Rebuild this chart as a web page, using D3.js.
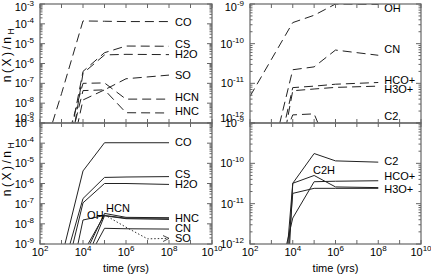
<!DOCTYPE html>
<html>
<head>
<meta charset="utf-8">
<script src="https://cdn.jsdelivr.net/npm/d3@7"></script>
<style>
  body { margin: 0; background: #fff; }
  text { font-family: "Liberation Sans", Arial, sans-serif; fill: #000; }
</style>
</head>
<body>
<svg id="chart" width="431" height="276"></svg>
<script>
// sample times (yrs)
const times = [1e2, 1e3, 1e4, 1e5, 1e6, 1e8];
const timesSO = [1e2, 1e3, 1e4, 1e5, 1e6, 1e7, 1e8];

// upper left panel (dashed)
const upLeftNames = ["CO", "CS", "H2O", "SO", "HCN", "HNC"];
const upLeftValues = [
  [1e-11, 3e-8, 1.4e-4, 1.35e-4, 1.3e-4, 1.3e-4],
  [1e-14, 1e-12, 4e-7, 3.5e-6, 7.6e-6, 7.4e-6],
  [1e-15, 6e-14, 3.2e-7, 2.7e-6, 2.9e-6, 2.8e-6],
  [1e-15, 1.8e-12, 4.3e-8, 4.7e-8, 1.7e-7, 2.6e-7],
  [1e-14, 1.3e-11, 1e-7, 1.05e-7, 1.6e-8, 1.6e-8],
  [1e-16, 1.6e-13, 1.45e-8, 4.7e-8, 3.3e-9, 3.2e-9]
];
const upLeftLabelAt = [1.3e-4, 9.5e-6, 3e-6, 2.6e-7, 2e-8, 4e-9];

// upper right panel (dashed)
const upRightNames = ["OH", "CN", "HCO+", "H3O+", "C2"];
const upRightValues = [
  [4.7e-12, 4e-11, 3.4e-10, 5.2e-10, 1e-9, 0.98e-9],
  [1e-14, 1.35e-13, 2.2e-11, 2.6e-11, 6.9e-11, 5.1e-11],
  [1e-16, 3.2e-14, 7.8e-12, 8.5e-12, 9.5e-12, 1.05e-11],
  [1e-17, 8.5e-15, 6.5e-12, 7.2e-12, 7.9e-12, 8.5e-12],
  [1e-16, 6.3e-14, 1.6e-12, 1.7e-12, 8.7e-14, 3e-14]
];
const upRightLabelAt = [7.9e-10, 7.2e-11, 1.2e-11, 7.4e-12, 1.5e-12];

// lower left panel (solid)
const lowLeftNames = ["CO", "CS", "H2O", "OH", "HCN", "HNC", "CN"];
const lowLeftValues = [
  [1e-11, 2e-10, 4.2e-6, 1.05e-4, 1.05e-4, 1.05e-4],
  [1e-13, 3.4e-11, 1.8e-7, 2e-6, 2.1e-6, 2.2e-6],
  [1e-14, 4.4e-12, 1.1e-7, 1e-6, 1e-6, 9e-7],
  [1e-15, 1.3e-13, 1.55e-8, 2.6e-8, 1.9e-8, 1.9e-8],
  [1e-15, 1e-13, 1.9e-10, 3.3e-8, 2.1e-8, 2e-8],
  [1e-15, 1e-13, 6.3e-11, 2.5e-8, 1.8e-8, 1.65e-8],
  [1e-15, 1e-13, 6.3e-11, 6e-9, 5.7e-9, 5.5e-9]
];
const lowLeftLabelAt = [1.2e-4, 2.9e-6, 9.5e-7, [1.55e4, 2.75e-8], [1.18e5, 6.2e-8], 1.9e-8, 6.5e-9];
// SO in the lower left: solid up to 1e5 yr, dotted after
const lowLeftSO = [1e-15, 1e-13, 3.6e-10, 2.8e-8, 6.8e-9, 1.8e-9, 1.9e-9];
const lowLeftSOLabelAt = 2.1e-9;

// lower right panel (solid)
const lowRightNames = ["C2", "C2H", "HCO+", "H3O+"];
const lowRightValues = [
  [1e-19, 1.2e-17, 3.2e-11, 1.75e-10, 1.15e-10, 1.07e-10],
  [1e-23, 1e-21, 3.2e-11, 5e-11, 2.6e-11, 2.5e-11],
  [1e-16, 2.3e-14, 4.4e-12, 3.5e-11, 3.6e-11, 3.7e-11],
  [1e-20, 3e-18, 1.8e-11, 2.4e-11, 2.4e-11, 2.4e-11]
];
const lowRightLabelAt = [1.15e-10, [8.8e4, 6.8e-11], 4.9e-11, 2.3e-11];

// tick labels (exponents of ten)
const xTickExps = [2, 4, 6, 8, 10];
const leftTickExps = [-3, -4, -5, -6, -7, -8, -9];
const rightTickExps = [-9, -10, -11, -12];

const svg = d3.select("#chart");
svg.append("rect").attr("width", 431).attr("height", 276).attr("fill", "#fff");

svg.append("defs").append("marker")
  .attr("id", "arrow")
  .attr("markerUnits", "userSpaceOnUse")
  .attr("markerWidth", 8).attr("markerHeight", 8)
  .attr("refX", 6).attr("refY", 3)
  .attr("orient", "auto")
  .append("path")
  .attr("d", "M0,0L6,3L0,6")
  .attr("fill", "none")
  .attr("stroke", "#333")
  .attr("stroke-width", 0.9);

const panels = [
  { id: "ul", x0: 40, x1: 212, y0: 4, y1: 123, yDom: [1e-9, 1e-3], exps: leftTickExps,
    names: upLeftNames, values: upLeftValues, labels: upLeftLabelAt, dash: "9,5", top: true, left: true },
  { id: "ur", x0: 250, x1: 421, y0: 4, y1: 123, yDom: [1e-12, 1e-9], exps: rightTickExps,
    names: upRightNames, values: upRightValues, labels: upRightLabelAt, dash: "9,5", top: true, left: false },
  { id: "ll", x0: 40, x1: 212, y0: 123, y1: 244, yDom: [1e-9, 1e-3], exps: leftTickExps,
    names: lowLeftNames, values: lowLeftValues, labels: lowLeftLabelAt, dash: null, top: false, left: true },
  { id: "lr", x0: 250, x1: 421, y0: 123, y1: 244, yDom: [1e-12, 1e-9], exps: rightTickExps,
    names: lowRightNames, values: lowRightValues, labels: lowRightLabelAt, dash: null, top: false, left: false }
];

function powLabel(sel, exp, size) {
  sel.append("tspan").text("10");
  sel.append("tspan").attr("dy", -5).attr("font-size", size).text((exp < 0 ? "-" : "") + Math.abs(exp));
}

panels.forEach(p => {
  const x = d3.scaleLog().domain([1e2, 1e10]).range([p.x0, p.x1]);
  const y = d3.scaleLog().domain(p.yDom).range([p.y1, p.y0]);
  const g = svg.append("g");

  g.append("clipPath").attr("id", "clip-" + p.id)
    .append("rect")
    .attr("x", p.x0).attr("y", p.y0)
    .attr("width", p.x1 - p.x0).attr("height", p.y1 - p.y0);

  const line = d3.line()
    .x((d, i) => x(times[i]))
    .y(d => y(d));

  const curves = g.append("g").attr("clip-path", "url(#clip-" + p.id + ")");
  p.values.forEach(vals => {
    curves.append("path")
      .attr("d", line(vals))
      .attr("fill", "none")
      .attr("stroke", "#222")
      .attr("stroke-width", 1)
      .attr("stroke-dasharray", p.dash);
  });

  if (p.id === "ll") {
    const soLine = d3.line().x(d => x(d[0])).y(d => y(d[1]));
    const pts = timesSO.map((t, i) => [t, lowLeftSO[i]]);
    curves.append("path")
      .attr("d", soLine(pts.slice(0, 4)))
      .attr("fill", "none").attr("stroke", "#222").attr("stroke-width", 1);
    g.append("path")
      .attr("d", soLine(pts.slice(3)))
      .attr("fill", "none").attr("stroke", "#333").attr("stroke-width", 1)
      .attr("stroke-dasharray", "1.5,2")
      .attr("marker-end", "url(#arrow)");
    g.append("text")
      .attr("x", x(1e8) + 6).attr("y", y(lowLeftSOLabelAt) + 4)
      .attr("font-size", 11).text("SO");
  }

  // curve labels
  p.names.forEach((n, i) => {
    const at = p.labels[i];
    const lx = Array.isArray(at) ? x(at[0]) : x(1e8) + 6;
    const ly = Array.isArray(at) ? y(at[1]) : y(at);
    g.append("text").attr("x", lx).attr("y", ly + 4).attr("font-size", 11).text(n);
  });

  // frame
  g.append("rect")
    .attr("x", p.x0).attr("y", p.y0)
    .attr("width", p.x1 - p.x0).attr("height", p.y1 - p.y0)
    .attr("fill", "none").attr("stroke", "#666").attr("stroke-width", 1.2);

  // y ticks: decades and minor
  const lo = Math.round(Math.log10(p.yDom[0])), hi = Math.round(Math.log10(p.yDom[1]));
  const ticks = g.append("g").attr("stroke", "#666").attr("stroke-width", 1);
  for (let k = lo; k <= hi; k++) {
    for (let m = 1; m <= 9; m++) {
      if (k === hi && m > 1) break;
      const v = m * Math.pow(10, k);
      const len = m === 1 ? 5 : 2.5;
      const yy = y(v);
      ticks.append("line").attr("x1", p.x0).attr("x2", p.x0 + len).attr("y1", yy).attr("y2", yy);
      ticks.append("line").attr("x1", p.x1).attr("x2", p.x1 - len).attr("y1", yy).attr("y2", yy);
    }
  }
  // x ticks at every decade
  for (let k = 2; k <= 10; k++) {
    const xx = x(Math.pow(10, k));
    ticks.append("line").attr("x1", xx).attr("x2", xx).attr("y1", p.y1).attr("y2", p.y1 - 4);
    ticks.append("line").attr("x1", xx).attr("x2", xx).attr("y1", p.y0).attr("y2", p.y0 + 4);
  }

  // y tick labels
  p.exps.forEach((e, i) => {
    let yy = y(Math.pow(10, e)) + 4;
    if (p.top && i === p.exps.length - 1) yy -= 5;
    if (p.top && i === 0) yy += 3;
    const t = g.append("text")
      .attr("x", p.x0 - 6).attr("y", yy)
      .attr("text-anchor", "end").attr("font-size", 11);
    powLabel(t, e, 8);
  });

  if (!p.top) {
    xTickExps.forEach(e => {
      const t = g.append("text")
        .attr("x", x(Math.pow(10, e))).attr("y", 256)
        .attr("text-anchor", "middle").attr("font-size", 11);
      powLabel(t, e, 8);
    });
    g.append("text")
      .attr("x", (p.x0 + p.x1) / 2).attr("y", 272)
      .attr("text-anchor", "middle").attr("font-size", 11)
      .text("time (yrs)");
  }

  if (p.left) {
    const cy = p.top ? 54 : 168;
    const t = g.append("text")
      .attr("transform", "translate(11," + cy + ") rotate(-90)")
      .attr("text-anchor", "middle").attr("font-size", 12)
      .attr("letter-spacing", 2.5);
    t.append("tspan").text("n(X)/n");
    t.append("tspan").attr("dy", 3).attr("font-size", 8.5).text("H");
  }
});
</script>
</body>
</html>
